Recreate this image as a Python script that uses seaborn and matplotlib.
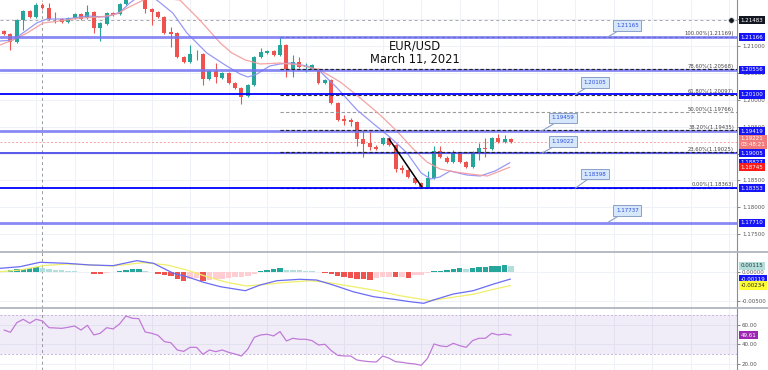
import numpy as np
import pandas as pd
import matplotlib
matplotlib.use("Agg")
import matplotlib.pyplot as plt
import seaborn as sns
from matplotlib.lines import Line2D

# ---- candles (4h bars) ----
open_ = [1.21282, 1.21227, 1.21078, 1.21487, 1.21655, 1.21543, 1.21767, 1.21711, 1.21515, 1.21506,
         1.21450, 1.21525, 1.21599, 1.21525, 1.21636, 1.21338, 1.21413, 1.21618, 1.21599, 1.21785,
         1.21897, 1.22009, 1.21916, 1.21692, 1.21636, 1.21543, 1.21264, 1.21245, 1.20798, 1.20705,
         1.20854, 1.20854, 1.20388, 1.20537, 1.20407, 1.20500, 1.20314, 1.20221, 1.20072, 1.20276,
         1.20798, 1.20873, 1.20910, 1.20835, 1.21022, 1.20574, 1.20705, 1.20612, 1.20574, 1.20574,
         1.20314, 1.20370, 1.19941, 1.19643, 1.19615, 1.19587, 1.19270, 1.19196, 1.19121, 1.19177,
         1.19289, 1.19159, 1.18730, 1.18693, 1.18544, 1.18451, 1.18376, 1.18544, 1.19047, 1.18916,
         1.18842, 1.19010, 1.18842, 1.18749, 1.19028, 1.19103, 1.19084, 1.19289, 1.19215, 1.19261]
high_ = [1.21301, 1.21245, 1.21506, 1.21674, 1.21674, 1.21804, 1.21804, 1.21804, 1.21636, 1.21525,
         1.21543, 1.21618, 1.21618, 1.21767, 1.21655, 1.21450, 1.21636, 1.21636, 1.21804, 1.21935,
         1.22046, 1.22084, 1.21953, 1.21711, 1.21655, 1.21562, 1.21357, 1.21264, 1.20817, 1.21022,
         1.20929, 1.20873, 1.20556, 1.20686, 1.20519, 1.20519, 1.20332, 1.20239, 1.20295, 1.20817,
         1.20966, 1.20929, 1.20929, 1.21169, 1.21040, 1.20835, 1.20798, 1.20686, 1.20668, 1.20593,
         1.20388, 1.20388, 1.19960, 1.19718, 1.19662, 1.19606, 1.19438, 1.19438, 1.19159, 1.19308,
         1.19308, 1.19177, 1.18786, 1.18712, 1.18563, 1.18469, 1.18674, 1.19140, 1.19140, 1.18954,
         1.19066, 1.19028, 1.18861, 1.19047, 1.19196, 1.19289, 1.19308, 1.19364, 1.19345, 1.19289]
low_ = [1.21208, 1.20929, 1.21059, 1.21301, 1.21525, 1.21525, 1.21692, 1.21487, 1.21432, 1.21432,
        1.21432, 1.21506, 1.21487, 1.21506, 1.21245, 1.21096, 1.21394, 1.21562, 1.21581, 1.21767,
        1.21879, 1.21897, 1.21618, 1.21394, 1.21525, 1.21227, 1.20984, 1.20779, 1.20686, 1.20686,
        1.20742, 1.20276, 1.20370, 1.20314, 1.20388, 1.20295, 1.20202, 1.19922, 1.20053, 1.20258,
        1.20779, 1.20854, 1.20817, 1.20817, 1.20425, 1.20425, 1.20593, 1.20519, 1.20556, 1.20295,
        1.20295, 1.19922, 1.19606, 1.19531, 1.19513, 1.19140, 1.18935, 1.19066, 1.19066, 1.19159,
        1.19140, 1.18656, 1.18637, 1.18544, 1.18432, 1.18363, 1.18370, 1.18525, 1.18916, 1.18823,
        1.18823, 1.18823, 1.18730, 1.18730, 1.18879, 1.18935, 1.19066, 1.19196, 1.19196, 1.19196]
close_ = [1.21227, 1.21078, 1.21487, 1.21655, 1.21543, 1.21767, 1.21711, 1.21506, 1.21497, 1.21450,
          1.21525, 1.21599, 1.21506, 1.21636, 1.21338, 1.21432, 1.21618, 1.21581, 1.21785, 1.21897,
          1.22009, 1.21916, 1.21692, 1.21636, 1.21543, 1.21245, 1.21227, 1.20798, 1.20705, 1.20854,
          1.20863, 1.20388, 1.20537, 1.20425, 1.20500, 1.20314, 1.20221, 1.20053, 1.20276, 1.20798,
          1.20891, 1.20910, 1.20835, 1.21022, 1.20574, 1.20705, 1.20612, 1.20630, 1.20649, 1.20314,
          1.20370, 1.19941, 1.19624, 1.19606, 1.19587, 1.19270, 1.19177, 1.19121, 1.19084, 1.19289,
          1.19159, 1.18712, 1.18693, 1.18563, 1.18451, 1.18376, 1.18544, 1.19047, 1.18935, 1.18842,
          1.19010, 1.18842, 1.18749, 1.19028, 1.19103, 1.19084, 1.19289, 1.19215, 1.19270, 1.19221]

# moving averages, traced as (bar index, price)
ma_fast_idx = [-0.6, 1.4, 3.6, 5.1, 6.7, 9.8, 12.9, 16.0, 18.1, 19.6, 21.5, 23.8, 26.3, 28.5, 31.6, 34.7,
               36.8, 38.0, 39.4, 41.4, 43.0, 44.6, 47.2, 49.2, 51.9, 55.0, 57.8, 60.1, 62.8, 65.0,
               66.5, 67.9, 69.5, 72.1, 74.2, 76.5, 78.8]
ma_fast_val = [1.21096, 1.21115, 1.21301, 1.21432, 1.21506, 1.21506, 1.21562, 1.21543, 1.21636, 1.21804,
               1.21972, 1.21860, 1.21618, 1.21245, 1.20873, 1.20630, 1.20481, 1.20425, 1.20481, 1.20630,
               1.20668, 1.20686, 1.20630, 1.20537, 1.20221, 1.19811, 1.19531, 1.19308, 1.19010, 1.18637,
               1.18525, 1.18563, 1.18674, 1.18600, 1.18581, 1.18674, 1.18827]
ma_slow_idx = [-0.6, 1.4, 3.6, 6.1, 8.7, 11.8, 15.0, 17.6, 19.2, 22.7, 27.4, 30.5, 33.7, 35.5, 37.6,
               39.9, 43.0, 46.1, 49.2, 52.4, 55.5, 58.6, 61.2, 63.6, 65.9, 67.9, 70.3, 72.6, 75.3,
               77.3, 78.8]
ma_slow_val = [1.21022, 1.21115, 1.21245, 1.21432, 1.21469, 1.21525, 1.21543, 1.21599, 1.21711, 1.21916,
               1.21860, 1.21487, 1.21059, 1.20873, 1.20742, 1.20668, 1.20686, 1.20649, 1.20556, 1.20332,
               1.20034, 1.19718, 1.19420, 1.19103, 1.18842, 1.18712, 1.18656, 1.18618, 1.18581, 1.18674,
               1.18745]

# MACD panel
macd_idx = [-0.6, 2.5, 5.6, 9.8, 13.4, 17.0, 20.7, 23.3, 26.4, 28.5, 31.1, 33.7, 37.6, 39.9, 42.5,
            46.1, 48.7, 51.3, 54.4, 57.6, 60.7, 63.3, 65.4, 66.9, 70.0, 73.1, 76.3, 78.9]
macd_val = [0.00070, 0.00099, 0.00176, 0.00158, 0.00129, 0.00117, 0.00205, 0.00158, -0.00018, -0.00077,
            -0.00176, -0.00253, -0.00324, -0.00224, -0.00148, -0.00123, -0.00136, -0.00224, -0.00342,
            -0.00430, -0.00475, -0.00518, -0.00546, -0.00488, -0.00382, -0.00324, -0.00206, -0.00119]
signal_idx = [-0.6, 2.5, 6.1, 9.8, 13.4, 17.0, 21.7, 25.4, 28.5, 31.6, 34.7, 37.8, 40.9, 44.1, 47.7,
              50.3, 54.4, 58.1, 61.7, 66.4, 69.5, 73.1, 76.3, 78.9]
signal_val = [0.00011, 0.00040, 0.00117, 0.00146, 0.00129, 0.00111, 0.00170, 0.00129, 0.00040, -0.00077,
              -0.00176, -0.00241, -0.00211, -0.00176, -0.00148, -0.00176, -0.00253, -0.00324, -0.00412,
              -0.00500, -0.00447, -0.00387, -0.00299, -0.00234]
hist_val = [0.00030, 0.00040, 0.00060, 0.00065, 0.00070, 0.00088, 0.00076, 0.00060, 0.00047, 0.00035,
            0.00030, 0.00023, 0.00012, 0.00006, -0.00023, -0.00025, -0.00010, 0.00010, 0.00018, 0.00040,
            0.00053, 0.00055, 0.00030, 0.00005, -0.00023, -0.00040, -0.00065, -0.00120, -0.00145, -0.00110,
            -0.00100, -0.00150, -0.00135, -0.00120, -0.00110, -0.00100, -0.00090, -0.00075, -0.00060, -0.00025,
            0.00020, 0.00047, 0.00065, 0.00070, 0.00047, 0.00040, 0.00035, 0.00030, 0.00023, 0.00012,
            -0.00010, -0.00035, -0.00065, -0.00090, -0.00100, -0.00110, -0.00125, -0.00130, -0.00095, -0.00088,
            -0.00075, -0.00090, -0.00082, -0.00095, -0.00055, -0.00040, -0.00020, 0.00018, 0.00030, 0.00040,
            0.00060, 0.00070, 0.00065, 0.00082, 0.00094, 0.00100, 0.00110, 0.00117, 0.00120, 0.00115]

# RSI panel
rsi_val = [54.7, 52.4, 62.2, 65.6, 61.6, 65.6, 63.9, 57.1, 56.8, 56.4,
           57.5, 58.8, 54.7, 59.5, 49.7, 51.4, 57.1, 55.8, 60.8, 69.0,
           66.6, 66.3, 52.7, 51.4, 49.3, 42.9, 41.8, 34.4, 33.0, 37.1,
           37.1, 30.0, 34.4, 32.7, 34.4, 32.0, 30.3, 28.3, 35.4, 47.3,
           49.7, 50.4, 48.7, 53.1, 43.6, 46.3, 45.3, 45.3, 43.9, 39.5,
           40.2, 33.7, 29.0, 28.3, 28.3, 24.2, 23.2, 22.5, 22.2, 28.3,
           26.0, 22.5, 21.9, 20.8, 20.2, 18.8, 26.0, 40.5, 38.5, 37.8,
           41.2, 38.8, 37.1, 43.9, 46.3, 46.3, 51.4, 49.7, 50.7, 49.6]

# drawn levels
sr_light = [1.21166, 1.20556, 1.19419, 1.17710]
sr_dark = [1.20100, 1.18353]
sr_mid = [1.19005]
fib_pct = ["100.00%", "78.60%", "61.80%", "50.00%", "38.20%", "23.60%", "0.00%"]
fib_price = [1.21169, 1.20568, 1.20097, 1.19766, 1.19435, 1.19025, 1.18363]
callout_text = ["1.21165", "1.20105", "1.19459", "1.19022", "1.18398", "1.17737"]
callout_anchor = [(94.0, 1.21166), (89.0, 1.20100), (83.8, 1.19419), (83.8, 1.19005), (89.0, 1.18353), (94.0, 1.17710)]
callout_box = [(97.1, 1.21385), (92.1, 1.20323), (87.1, 1.19662), (87.1, 1.19224), (92.1, 1.18618), (97.1, 1.17934)]

GREEN, RED = "#26a69a", "#ef5350"
W, H = 768, 370

sns.set_theme(style="white")
plt.rcParams["font.family"] = ["DejaVu Sans"]

fig = plt.figure(figsize=(W / 100, H / 100), dpi=100)


def rect(top, bottom):
    return [0, 1 - bottom / H, 737 / W, (bottom - top) / H]


ax_p = fig.add_axes(rect(0, 252))
ax_m = fig.add_axes(rect(252, 308))
ax_r = fig.add_axes(rect(308, 370))

idx = np.arange(len(open_))
xlim = (-0.62, 114.2)
grid_x = np.arange(5, 114, 6)

for ax in (ax_p, ax_m, ax_r):
    ax.set_xlim(*xlim)
    ax.set_xticks([])
    for s in ("top", "left", "bottom"):
        ax.spines[s].set_visible(False)
    ax.spines["right"].set_color("#8a8d96")
    ax.spines["right"].set_linewidth(0.8)
    ax.yaxis.tick_right()
    ax.tick_params(axis="y", labelsize=4, colors="#555555", length=2, width=0.5, pad=1.5)
    for gx in grid_x:
        ax.axvline(gx, color="#eef1f6", lw=0.7, zorder=0)
    ax.axvline(6, color="#9a9a9a", lw=0.7, ls=(0, (3, 3)), zorder=1)

# ---- price panel ----
ax_p.set_ylim(1.17165, 1.21860)
pt = np.arange(1.175, 1.2151, 0.005)
ax_p.set_yticks(pt)
ax_p.set_yticklabels([f"{v:.5f}" for v in pt])
for v in pt:
    ax_p.axhline(v, color="#eef1f6", lw=0.7, zorder=0)

ax_p.axhline(1.21483, color="#a8a8a8", lw=0.7, ls=(0, (3, 3)), zorder=1)
ax_p.axhline(1.19221, color="#f4a3a3", lw=0.7, ls=(0, (2, 2)), zorder=1)

o, h, l, c = map(np.array, (open_, high_, low_, close_))
col = np.where(c >= o, GREEN, RED)
ax_p.vlines(idx, l, h, color=col, lw=0.8, zorder=3)
body = np.where(np.abs(c - o) < 4e-5, 4e-5, np.abs(c - o))
ax_p.bar(idx, body, bottom=np.minimum(o, c), width=0.62, color=col, zorder=4, linewidth=0)

sns.lineplot(x=ma_fast_idx, y=ma_fast_val, ax=ax_p, color="#8e8ef5", lw=0.9, alpha=0.9,
             estimator=None, sort=False, zorder=5)
sns.lineplot(x=ma_slow_idx, y=ma_slow_val, ax=ax_p, color="#f39a9a", lw=0.9, alpha=0.9,
             estimator=None, sort=False, zorder=5)

# fib retracement lines
for pct, fp in zip(fib_pct, fib_price):
    ls_col = "#9a9a9a" if pct == "50.00%" else "#333333"
    ax_p.plot([43, xlim[1]], [fp, fp], color=ls_col, lw=0.8, ls=(0, (3, 2)), zorder=4.5)
    ax_p.text(0.996, fp + 0.00012, f"{pct}({fp:.5f})", transform=ax_p.get_yaxis_transform(),
              ha="right", va="bottom", fontsize=3.8, color="#444444", zorder=9)

for v in sr_light:
    ax_p.axhline(v, color="#7474f2", lw=2.0, alpha=0.85, zorder=5)
for v in sr_mid:
    ax_p.axhline(v, color="#4646ea", lw=1.4, alpha=0.9, zorder=5)
for v in sr_dark:
    ax_p.axhline(v, color="#0000ff", lw=1.3, zorder=5)
for v in (1.20568, 1.19435, 1.19025):
    ax_p.plot([43, xlim[1]], [v, v], color="#222222", lw=0.8, ls=(0, (3, 2)), zorder=6)

# trend line over the sell-off
ax_p.plot([60.0, 65.1], [1.19270, 1.18376], color="black", lw=1.1, zorder=7)

for txt, (ax_i, ay), (bx, by) in zip(callout_text, callout_anchor, callout_box):
    ax_p.annotate(txt, xy=(ax_i, ay), xytext=(bx, by), fontsize=4, color="#2a4fd8",
                  ha="center", va="center", zorder=10,
                  bbox=dict(boxstyle="square,pad=0.5", fc="#d6e6fb", ec="#8aa0c8", lw=0.7),
                  arrowprops=dict(arrowstyle="-", color="#8aa0c8", lw=0.8, shrinkA=0, shrinkB=0))

ax_p.text(415 / 737, 1 - 46 / 252, "EUR/USD", transform=ax_p.transAxes, fontsize=8.3,
          ha="center", va="center", color="#111111", zorder=12)
ax_p.text(415 / 737, 1 - 59.5 / 252, "March 11, 2021", transform=ax_p.transAxes, fontsize=8.3,
          ha="center", va="center", color="#111111", zorder=12)


def tag(ax, y, text, fc, tc="white", fs=4):
    ax.text(1.005, y, text, transform=ax.get_yaxis_transform(), ha="left", va="center",
            fontsize=fs, color=tc, clip_on=False, zorder=20, linespacing=1.1,
            bbox=dict(boxstyle="square,pad=0.3", fc=fc, ec="none"))


tag(ax_p, 1.21483, "1.21483", "#131722")
ax_p.plot([xlim[1] - 0.9], [1.21483], marker="o", ms=4, mfc="#131722", mec="#dddddd", mew=0.5,
          clip_on=False, zorder=20)
for v in (1.21166, 1.20556, 1.20100, 1.19419, 1.19005, 1.18827, 1.18353, 1.17710):
    tag(ax_p, v, f"{v:.5f}", "#1515f5")
tag(ax_p, 1.18745, "1.18745", "#ff1a1a")
tag(ax_p, 1.19221, "1.19221\n03:48:21", "#f27a7a")

# ---- MACD panel ----
ax_m.set_ylim(-0.006285, 0.003574)
ax_m.set_yticks([0, -0.005])
ax_m.set_yticklabels(["0.00000", "-0.00500"])
for v in (0, -0.005):
    ax_m.axhline(v, color="#eef1f6", lw=0.7, zorder=0)
hv = np.array(hist_val)
hcol = []
for i, v in enumerate(hv):
    prev = hv[i - 1] if i > 0 else v + 1e-4
    if v >= 0:
        hcol.append("#26a69a" if v >= prev else "#b2dfdb")
    else:
        hcol.append("#ef5350" if v <= prev else "#ffcdd2")
ax_m.bar(idx, hv, width=0.85, color=hcol, linewidth=0, zorder=2)
sns.lineplot(x=macd_idx, y=macd_val, ax=ax_m, color="#6b6bf5", lw=0.9, estimator=None, sort=False, zorder=4)
sns.lineplot(x=signal_idx, y=signal_val, ax=ax_m, color="#f0ee6a", lw=0.9, estimator=None, sort=False, zorder=3)
tag(ax_m, 0.00115, "0.00115", "#b2dfdb", "#333333")
tag(ax_m, -0.00119, "-0.00119", "#1515f5")
tag(ax_m, -0.00234, "-0.00234", "#ffff33", "#222222")

# ---- RSI panel ----
ax_r.set_ylim(14.05, 77.1)
ax_r.set_yticks([20, 40, 60])
ax_r.set_yticklabels(["20.00", "40.00", "60.00"])
for v in (20, 40, 60):
    ax_r.axhline(v, color="#eef1f6", lw=0.7, zorder=0)
ax_r.axhspan(30, 70, color="#7e57c2", alpha=0.1, lw=0, zorder=1)
for v in (30, 70):
    ax_r.axhline(v, color="#c5b3dd", lw=0.7, ls=(0, (2, 2)), zorder=2)
sns.lineplot(x=idx, y=rsi_val, ax=ax_r, color="#c07ad8", lw=0.9, estimator=None, zorder=4)
tag(ax_r, 49.61, "49.61", "#9c27b0")

for ax in (ax_p, ax_m, ax_r):
    ax.set_xlabel("")
    ax.set_ylabel("")

# panel separators across the whole width
for ypx in (252, 308):
    fig.add_artist(Line2D([0, 1], [1 - ypx / H, 1 - ypx / H], color="#b2b5be", lw=1.3))

fig.savefig("out.png", dpi=100)
